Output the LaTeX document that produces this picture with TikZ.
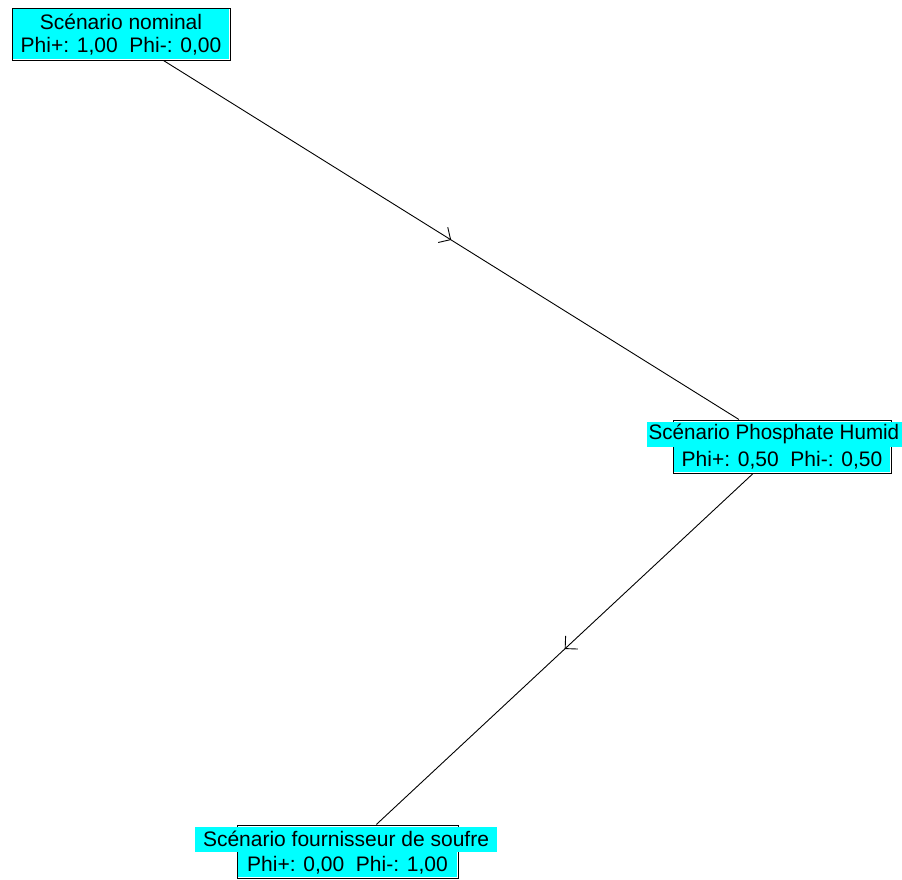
\documentclass[tikz,border=0pt]{standalone}
\usepackage{fontspec}
\setmainfont{Liberation Sans}
\usetikzlibrary{arrows.meta,decorations.markings}
\definecolor{nodecyan}{RGB}{0,255,255}
\tikzset{
  outline/.style={draw=black, line width=1pt, inner sep=0pt, shape=rectangle},
  cyanline/.style={fill=nodecyan, inner sep=0pt, minimum height=25pt, font=\fontsize{21}{24}\selectfont, text=black},
  edge/.style={draw=black, line width=0.9pt,
    postaction={decorate, decoration={markings, mark=at position 0.5 with {\arrow[line width=0.9pt]{Straight Barb[length=9pt, width=18pt]}}}}}
}
\begin{document}
\begin{tikzpicture}[x=1pt, y=-1pt]
\useasboundingbox (0,0) rectangle (902,879);
% node 1
\node[outline, minimum width=218pt, minimum height=52pt] (n1) at (121,34) {};
\node[cyanline, minimum width=216pt, anchor=north] (n1a) at (121,9) {Scénario nominal};
\node[cyanline, minimum width=216pt, anchor=south] (n1b) at (121,59) {Phi+: 1,00\ \ Phi-: 0,00};
% node 2
\node[outline, minimum width=218pt, minimum height=53pt] (n2) at (782,446.5) {};
\node[cyanline, anchor=north west, inner xsep=1.5pt] (n2a) at (647,421.5) {\makebox[252pt][l]{\scalebox{0.98}[1]{Scénario Phosphate Humid}}};
\node[cyanline, minimum width=216pt, anchor=south] (n2b) at (782,472.5) {Phi+: 0,50\ \ Phi-: 0,50};
% node 3
\node[outline, minimum width=221pt, minimum height=53pt] (n3) at (347.5,851.5) {};
\node[cyanline, minimum width=302pt, anchor=north] (n3a) at (346,826.5) {Scénario fournisseur de soufre};
\node[cyanline, minimum width=219pt, anchor=south] (n3b) at (347.5,877.5) {Phi+: 0,00\ \ Phi-: 1,00};
% edges
\draw[edge] (n1) -- (n2);
\draw[edge] (n2) -- (n3);
\end{tikzpicture}
\end{document}
